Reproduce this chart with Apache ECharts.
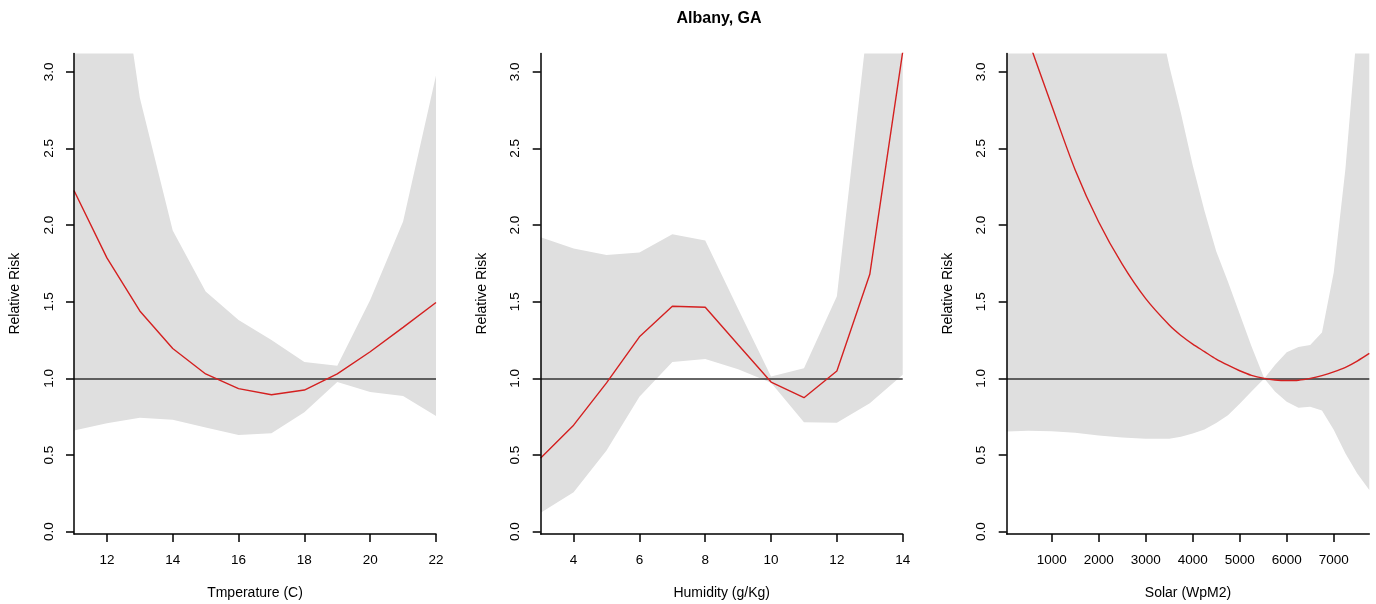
<!DOCTYPE html>
<html>
<head>
<meta charset="utf-8">
<script src="https://cdn.jsdelivr.net/npm/echarts@6/dist/echarts.min.js"></script>
<style>
html,body{margin:0;padding:0;background:#fff;}
#chart{width:1376px;height:604px;}
</style>
</head>
<body>
<div id="chart"></div>
<script>
// ---------- data ----------
const titleText = 'Albany, GA';
const yName = 'Relative Risk';
const rrTicks = [0, 0.5, 1, 1.5, 2, 2.5, 3];

const tempName = 'Tmperature (C)';
const tempTicks = [12, 14, 16, 18, 20, 22];
const tempX     = [11, 12, 13, 14, 15, 16, 17, 18, 19, 20, 21, 22];
const tempFit   = [2.226, 1.786, 1.44, 1.195, 1.029, 0.933, 0.893, 0.924, 1.029, 1.174, 1.333, 1.495];
const tempUpper = [7.5, 4.3, 2.83, 1.964, 1.567, 1.381, 1.25, 1.107, 1.083, 1.512, 2.024, 2.976];
const tempLower = [0.66, 0.707, 0.743, 0.731, 0.679, 0.631, 0.643, 0.779, 0.976, 0.912, 0.886, 0.755];

const humName = 'Humidity (g/Kg)';
const humTicks = [4, 6, 8, 10, 12, 14];
const humX     = [3, 4, 5, 6, 7, 8, 9, 10, 11, 12, 13, 14];
const humFit   = [0.481, 0.695, 0.971, 1.271, 1.471, 1.464, 1.219, 0.976, 0.874, 1.048, 1.679, 3.13];
const humUpper = [1.921, 1.848, 1.805, 1.821, 1.94, 1.9, 1.452, 1.012, 1.067, 1.536, 3.44, 6.0];
const humLower = [0.124, 0.257, 0.529, 0.881, 1.107, 1.126, 1.06, 0.971, 0.714, 0.71, 0.838, 1.024];

const solarName = 'Solar (WpM2)';
const solarTicks = [1000, 2000, 3000, 4000, 5000, 6000, 7000];
const solarX     = [43, 500, 1000, 1500, 2000, 2500, 3000, 3500, 3750, 4000, 4250, 4500, 4750, 5000, 5250, 5523, 5750, 6000, 6250, 6500, 6750, 7000, 7250, 7500, 7757];
const solarFit   = [3.62, 3.21, 2.78, 2.36, 2.02, 1.745, 1.52, 1.348, 1.28, 1.224, 1.175, 1.126, 1.086, 1.05, 1.02, 1.0, 0.99, 0.986, 0.988, 1.0, 1.018, 1.042, 1.072, 1.113, 1.163];
const solarUpper = [9.5, 8.5, 7.5, 6.6, 5.7, 4.8, 3.75, 3.04, 2.73, 2.39, 2.094, 1.83, 1.63, 1.42, 1.21, 1.0, 1.088, 1.17, 1.205, 1.218, 1.30, 1.69, 2.37, 3.29, 4.6];
const solarLower = [0.654, 0.659, 0.655, 0.645, 0.628, 0.614, 0.606, 0.607, 0.62, 0.64, 0.666, 0.709, 0.759, 0.835, 0.914, 1.0, 0.915, 0.847, 0.808, 0.815, 0.79, 0.665, 0.51, 0.38, 0.272];

// ---------- layout / style ----------
const FONT = 'Liberation Sans, Arial, Helvetica, sans-serif';
const gridTop = 53.4, gridHeight = 480.6;
const panels = [
  {left: 74,    width: 362,   xr: [11, 22],   ticks: tempTicks,  name: tempName,  x: tempX,  fit: tempFit,  up: tempUpper,  lo: tempLower,  smooth: false},
  {left: 540.7, width: 362,   xr: [3, 14],    ticks: humTicks,   name: humName,   x: humX,   fit: humFit,   up: humUpper,   lo: humLower,   smooth: false},
  {left: 1006.7,width: 362.6, xr: [43, 7757], ticks: solarTicks, name: solarName, x: solarX, fit: solarFit, up: solarUpper, lo: solarLower, smooth: 0.3}
];
const yRange = [-0.015, 3.12];

const grids = [], xAxes = [], yAxes = [], series = [];
panels.forEach((p, i) => {
  grids.push({left: p.left, top: gridTop, width: p.width, height: gridHeight, outerBoundsMode: 'none', containLabel: false});
  xAxes.push({
    type: 'value', gridIndex: i, min: p.xr[0], max: p.xr[1], z: 10,
    name: p.name, nameLocation: 'middle', nameGap: 52,
    nameTextStyle: {fontFamily: FONT, fontSize: 14, color: '#000'},
    axisLine: {show: true, onZero: false, lineStyle: {color: '#000', width: 1.5}},
    axisTick: {show: true, length: 8, customValues: p.ticks, lineStyle: {color: '#000', width: 1.5}},
    axisLabel: {customValues: p.ticks, margin: 19.5, fontFamily: FONT, fontSize: 13.5, color: '#000',
                formatter: v => String(v)},
    splitLine: {show: false}
  });
  yAxes.push({
    type: 'value', gridIndex: i, min: yRange[0], max: yRange[1], z: 10,
    name: yName, nameLocation: 'middle', nameGap: 52,
    nameTextStyle: {fontFamily: FONT, fontSize: 14, color: '#000'},
    axisLine: {show: true, onZero: false, lineStyle: {color: '#000', width: 1.5}},
    axisTick: {show: true, length: 8, customValues: rrTicks, lineStyle: {color: '#000', width: 1.5}},
    axisLabel: {customValues: rrTicks, rotate: 90, margin: 18, fontFamily: FONT, fontSize: 13.5, color: '#000',
                formatter: v => Number(v).toFixed(1)},
    splitLine: {show: false}
  });
  // confidence band (polygon between upper and lower)
  series.push({
    type: 'custom', xAxisIndex: i, yAxisIndex: i, clip: true, silent: true, z: 1,
    data: p.x.map((x, k) => [x, p.up[k], p.lo[k]]),
    encode: {x: 0, y: [1, 2]},
    renderItem: function (params, api) {
      if (params.dataIndex !== 0) return null;
      const pts = [];
      for (let k = 0; k < p.x.length; k++) pts.push(api.coord([p.x[k], p.up[k]]));
      for (let k = p.x.length - 1; k >= 0; k--) pts.push(api.coord([p.x[k], p.lo[k]]));
      return {type: 'polygon', shape: {points: pts}, style: {fill: '#dfdfdf', stroke: null}};
    }
  });
  // fitted relative risk
  series.push({
    type: 'line', xAxisIndex: i, yAxisIndex: i, z: 3, silent: true,
    symbol: 'none', smooth: p.smooth, clip: true,
    data: p.x.map((x, k) => [x, p.fit[k]]),
    lineStyle: {color: '#d42020', width: 1.4},
    markLine: {
      silent: true, symbol: 'none', label: {show: false}, z: 2,
      lineStyle: {color: '#333', width: 1.6, type: 'solid'},
      data: [{yAxis: 1}]
    }
  });
});

const chart = echarts.init(document.getElementById('chart'), null, {renderer: 'canvas'});
chart.setOption({
  animation: false,
  backgroundColor: '#fff',
  title: {
    text: titleText, left: 719, top: 11, padding: 0, textAlign: 'center',
    textStyle: {fontFamily: FONT, fontSize: 16, fontWeight: 'bold', color: '#000'}
  },
  grid: grids, xAxis: xAxes, yAxis: yAxes, series: series
});
</script>
</body>
</html>
